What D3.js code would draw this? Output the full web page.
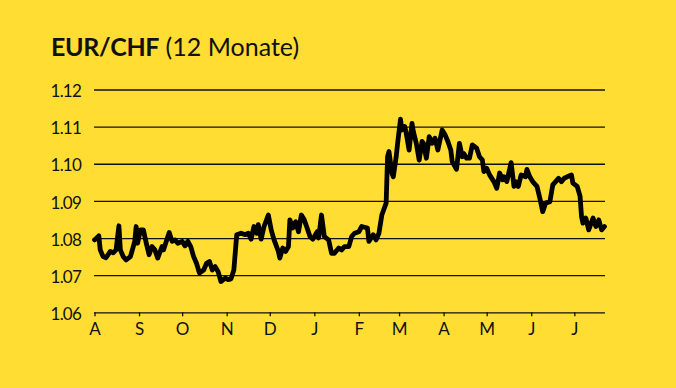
<!DOCTYPE html>
<html>
<head>
<meta charset="utf-8">
<script src="https://cdn.jsdelivr.net/npm/d3@7"></script>
<style>
  html, body { margin: 0; padding: 0; background: #FFDD33; }
  svg { display: block; }
  text { font-family: Lato, "Open Sans", sans-serif; fill: #111; }
</style>
</head>
<body>
<div id="chart"></div>
<script>
// EUR/CHF Kurs über 12 Monate
const dates = [
  "2020-08-01","2020-08-02","2020-08-04","2020-08-05","2020-08-07","2020-08-09","2020-08-12","2020-08-14",
  "2020-08-16","2020-08-18","2020-08-19","2020-08-21","2020-08-23","2020-08-26","2020-08-28","2020-08-29",
  "2020-08-30","2020-08-31","2020-09-02","2020-09-04","2020-09-06","2020-09-08","2020-09-10","2020-09-12",
  "2020-09-14","2020-09-17","2020-09-18","2020-09-22","2020-09-24","2020-09-26","2020-09-28","2020-10-01",
  "2020-10-03","2020-10-05","2020-10-07","2020-10-09","2020-10-11","2020-10-13","2020-10-16","2020-10-18",
  "2020-10-20","2020-10-22","2020-10-24","2020-10-26","2020-10-28","2020-10-31","2020-11-02","2020-11-04",
  "2020-11-06","2020-11-08","2020-11-11","2020-11-14","2020-11-16","2020-11-18","2020-11-20","2020-11-22",
  "2020-11-23","2020-11-25","2020-11-27","2020-11-30","2020-12-02","2020-12-04","2020-12-07","2020-12-08",
  "2020-12-10","2020-12-12","2020-12-14","2020-12-15","2020-12-17","2020-12-19","2020-12-21","2020-12-23",
  "2020-12-25","2020-12-27","2020-12-29","2020-12-31","2021-01-03","2021-01-04","2021-01-06","2021-01-08",
  "2021-01-11","2021-01-13","2021-01-15","2021-01-18","2021-01-20","2021-01-22","2021-01-25","2021-01-27",
  "2021-01-29","2021-02-01","2021-02-03","2021-02-07","2021-02-08","2021-02-11","2021-02-13","2021-02-15",
  "2021-02-17","2021-02-20","2021-02-21","2021-02-22","2021-02-24","2021-02-25","2021-02-27","2021-02-28",
  "2021-03-02","2021-03-03","2021-03-05","2021-03-06","2021-03-08","2021-03-10","2021-03-11","2021-03-13",
  "2021-03-15","2021-03-17","2021-03-18","2021-03-20","2021-03-22","2021-03-24","2021-03-26","2021-03-28",
  "2021-03-31","2021-04-02","2021-04-04","2021-04-06","2021-04-07","2021-04-10","2021-04-12","2021-04-14",
  "2021-04-15","2021-04-17","2021-04-19","2021-04-21","2021-04-24","2021-04-26","2021-04-28","2021-04-29",
  "2021-05-01","2021-05-03","2021-05-06","2021-05-08","2021-05-10","2021-05-12","2021-05-13","2021-05-15",
  "2021-05-18","2021-05-20","2021-05-21","2021-05-23","2021-05-25","2021-05-28","2021-05-29","2021-05-31",
  "2021-06-02","2021-06-05","2021-06-07","2021-06-09","2021-06-11","2021-06-14","2021-06-16","2021-06-18",
  "2021-06-20","2021-06-22","2021-06-24","2021-06-26","2021-06-29","2021-06-30","2021-07-03","2021-07-05",
  "2021-07-06","2021-07-07","2021-07-09","2021-07-11","2021-07-14","2021-07-16","2021-07-18","2021-07-20",
  "2021-07-22"
];
const rates = [
  1.0795,1.0798,1.0806,1.0768,1.0750,1.0747,1.0764,1.0760,
  1.0768,1.0833,1.0768,1.0750,1.0741,1.0750,1.0777,1.0791,
  1.0831,1.0786,1.0822,1.0822,1.0787,1.0755,1.0777,1.0768,
  1.0746,1.0777,1.0768,1.0815,1.0791,1.0795,1.0786,1.0791,
  1.0779,1.0791,1.0777,1.0750,1.0732,1.0706,1.0714,1.0732,
  1.0737,1.0714,1.0723,1.0710,1.0683,1.0692,1.0688,1.0690,
  1.0714,1.0809,1.0813,1.0809,1.0813,1.0797,1.0831,1.0813,
  1.0836,1.0797,1.0831,1.0862,1.0822,1.0795,1.0764,1.0746,
  1.0773,1.0764,1.0777,1.0849,1.0827,1.0844,1.0817,1.0862,
  1.0849,1.0827,1.0804,1.0797,1.0817,1.0800,1.0862,1.0804,
  1.0795,1.0759,1.0759,1.0773,1.0768,1.0777,1.0777,1.0804,
  1.0813,1.0817,1.0831,1.0827,1.0791,1.0809,1.0795,1.0813,
  1.0862,1.0894,1.1019,1.1033,1.0975,1.0965,1.1019,1.1055,
  1.1120,1.1091,1.1100,1.1082,1.1037,1.1109,1.1086,1.1055,
  1.1010,1.1060,1.1055,1.1015,1.1073,1.1055,1.1069,1.1037,
  1.1091,1.1078,1.1060,1.1037,1.1006,1.0985,1.1055,1.1019,
  1.1028,1.1015,1.1015,1.1051,1.1042,1.1019,1.1010,1.0979,
  1.0988,1.0970,1.0952,1.0934,1.0975,1.0957,1.0965,1.0952,
  1.1003,1.0939,1.0952,1.0939,1.0970,1.0965,1.0985,1.0965,
  1.0952,1.0939,1.0907,1.0871,1.0894,1.0898,1.0943,1.0952,
  1.0961,1.0952,1.0961,1.0965,1.0970,1.0948,1.0939,1.0912,
  1.0858,1.0840,1.0854,1.0822,1.0854,1.0831,1.0849,1.0822,
  1.0831
];
const yTicks = [1.06, 1.07, 1.08, 1.09, 1.10, 1.11, 1.12];
const monthTicks = ["2020-08-01","2020-09-01","2020-10-01","2020-11-01","2020-12-01","2021-01-01",
                    "2021-02-01","2021-03-01","2021-04-01","2021-05-01","2021-06-01","2021-07-01"];
const monthLabels = ["A","S","O","N","D","J","F","M","A","M","J","J"];

const W = 676, H = 388;
const parse = d3.utcParse("%Y-%m-%d");
const data = dates.map((d, i) => ({ date: parse(d), value: rates[i] }));

const x = d3.scaleUtc()
  .domain([parse("2020-08-01"), parse("2021-07-22")])
  .range([94.5, 604.5]);
const y = d3.scaleLinear().domain([1.06, 1.12]).range([312.3, 89.5]);

const svg = d3.select("#chart").append("svg")
  .attr("width", W).attr("height", H);

svg.append("rect").attr("width", W).attr("height", H).attr("fill", "#FFDD33");

// Titel
const title = svg.append("text").attr("x", 51).attr("y", 56).style("font-size", "25px");
title.append("tspan").style("font-weight", "700").attr("letter-spacing", "-0.3px").text("EUR/CHF");
title.append("tspan").style("font-weight", "400").text(" (12 Monate)");

// Gitterlinien + y-Beschriftung
const yAxis = svg.append("g")
  .attr("transform", "translate(94,0)")
  .call(d3.axisLeft(y).tickValues(yTicks).tickSize(-511).tickPadding(13)
    .tickFormat(d3.format(".2f")));
yAxis.select(".domain").remove();
yAxis.selectAll(".tick line").attr("stroke", "#111").attr("stroke-width", 1.3);
yAxis.selectAll(".tick text")
  .attr("dy", "0.42em")
  .attr("letter-spacing", "-0.8px")
  .style("font-size", "17px")
  .style("font-family", "Lato, sans-serif")
  .attr("fill", "#111");

// x-Achse mit Monatsinitialen
const xAxis = svg.append("g")
  .attr("transform", "translate(0,312.3)")
  .call(d3.axisBottom(x).tickValues(monthTicks.map(parse)).tickSize(4).tickSizeOuter(0)
    .tickPadding(7).tickFormat((d, i) => monthLabels[i]));
xAxis.select(".domain").remove();
xAxis.selectAll(".tick line").attr("stroke", "#111").attr("stroke-width", 1.3);
xAxis.selectAll(".tick text")
  .style("font-size", "17px")
  .style("font-family", "Lato, sans-serif")
  .attr("fill", "#111");

// Kurslinie
const line = d3.line().x(d => x(d.date)).y(d => y(d.value));
svg.append("path")
  .datum(data)
  .attr("d", line)
  .attr("fill", "none")
  .attr("stroke", "#000")
  .attr("stroke-width", 4.8)
  .attr("stroke-linejoin", "round")
  .attr("stroke-linecap", "round");
</script>
</body>
</html>
